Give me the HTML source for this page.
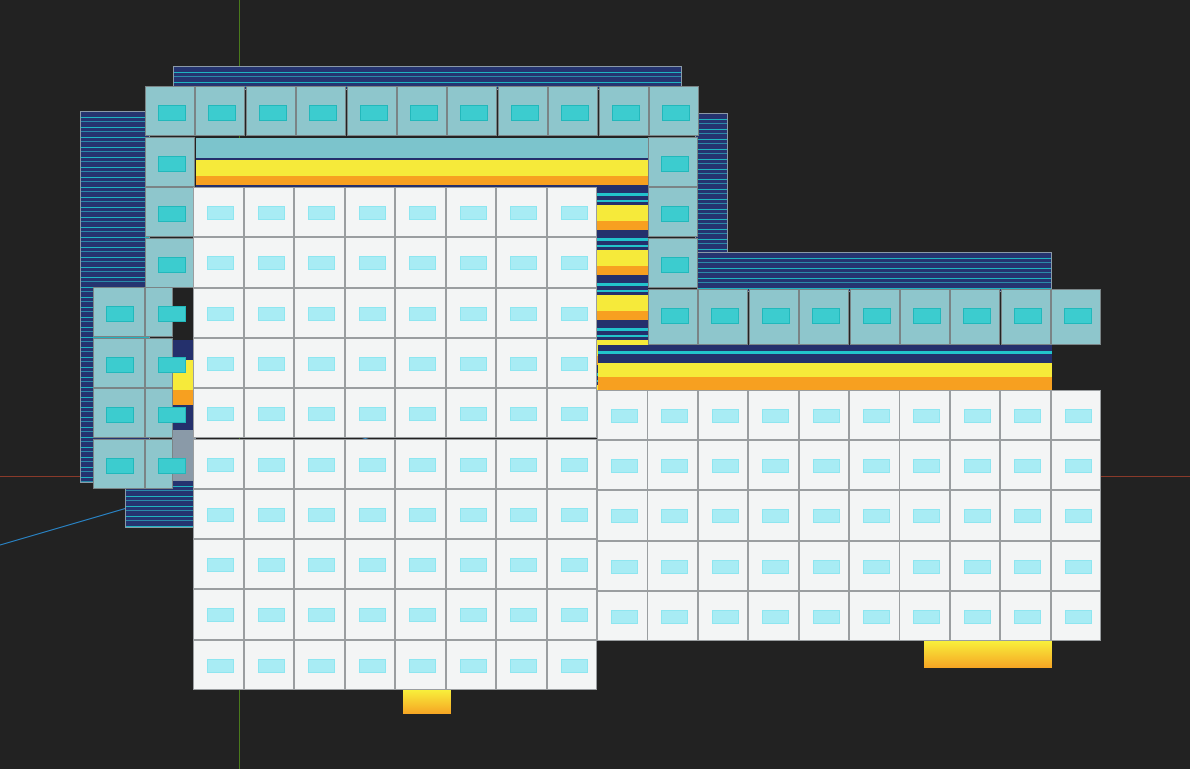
<!DOCTYPE html>
<html><head><meta charset="utf-8"><style>
html,body{margin:0;padding:0;background:#222;width:1190px;height:769px;overflow:hidden;position:relative;font-family:"Liberation Sans",sans-serif}
div{box-sizing:border-box}
.a{position:absolute}
.navy{background:repeating-linear-gradient(180deg,#253470 0 5px,#1fb4c0 5px 6px,#253470 6px 9px,#2a8aa8 9px 10px);border:1px solid #8a9aa8}
.stripe{background:repeating-linear-gradient(180deg,#24306c 0 5px,#22c3cc 5px 8px,#24306c 8px 12px,#22c3cc 12px 14px,#24306c 14px 17px,#f6ea3a 17px 33px,#f7a020 33px 42px,#24306c 42px 45px)}
.yel{background:linear-gradient(180deg,#f8f03c,#f6a524)}
.ct{position:absolute;width:50px;height:50px;background:#8ec6cc;border:1px solid #7a8486}
.ct i{position:absolute;left:12px;top:18px;width:26px;height:14px;background:#3ccccf;border:1px solid #22b8bb}
.wt{position:absolute;width:50.5px;height:50.3px;background:#f3f5f5;border:1px solid #9a9ea0}
.wt i{position:absolute;left:13px;top:18px;width:25px;height:12px;background:#a8ecf4;border:1px solid #8ee6f0}
</style></head><body>
<div class="a" style="left:239px;top:0;width:1px;height:769px;background:#4a7a1c"></div>
<div class="a" style="left:0;top:476px;width:1190px;height:1px;background:#8a3a2a"></div>
<svg class="a" style="left:0;top:0" width="1190" height="769"><line x1="0" y1="545" x2="470" y2="408" stroke="#2a8ad0" stroke-width="1"/></svg>
<div class="a navy" style="left:173px;top:66px;width:509px;height:24px"></div>
<div class="a navy" style="left:80px;top:111px;width:70px;height:372px"></div>
<div class="a navy" style="left:125px;top:480px;width:72px;height:48px"></div>
<div class="a navy" style="left:695px;top:113px;width:33px;height:145px"></div>
<div class="a navy" style="left:697px;top:252px;width:355px;height:40px"></div>
<div class="a stripe" style="left:196px;top:143px;width:452px;height:247px"></div>
<div class="a" style="left:196px;top:138px;width:452px;height:20px;background:#7cc4cc"></div>
<div class="a" style="left:598px;top:345px;width:454px;height:45px;background:linear-gradient(180deg,#24306c 0 6px,#22c3cc 6px 9px,#24306c 9px 18px,#f6ea3a 18px 32px,#f7a020 32px 45px)"></div>
<div class="a" style="left:172px;top:340px;width:24px;height:140px;background:linear-gradient(180deg,#24306c 0 20px,#f6ea3a 20px 50px,#f7a020 50px 65px,#24306c 65px 90px,#8a9aa8 90px 140px)"></div>
<div class="a yel" style="left:403px;top:690px;width:48px;height:24px"></div>
<div class="a yel" style="left:924px;top:641px;width:128px;height:27px"></div>
<div id="c"></div>
<script>
var c=document.getElementById('c'),h='';
function ct(x,y,w,hh){h+='<div class="ct" style="left:'+x+'px;top:'+y+'px;'+(w?'width:'+w+'px;height:'+hh+'px':'')+'"><i></i></div>';}
for(var i=0;i<11;i++)ct(145+i*50.4,86);
for(var j=1;j<4;j++)ct(145,86+j*50.5);
for(var j=1;j<4;j++)ct(648,86+j*50.5);
for(var i=0;i<9;i++)ct(648+i*50.4,289,50,56);
for(var j=0;j<4;j++)ct(93,287+j*50.5,52,50);
for(var j=0;j<4;j++)ct(145,287+j*50.5,28,50);
for(var r=0;r<10;r++)for(var k=0;k<8;k++)h+='<div class="wt" style="left:'+(193+k*50.5)+'px;top:'+(187+r*50.3)+'px"><i></i></div>';
for(var r=0;r<5;r++)for(var k=0;k<10;k++)h+='<div class="wt" style="left:'+(597+k*50.4)+'px;top:'+(390+r*50.2)+'px"><i></i></div>';
c.innerHTML=h;
</script>
</body></html>
